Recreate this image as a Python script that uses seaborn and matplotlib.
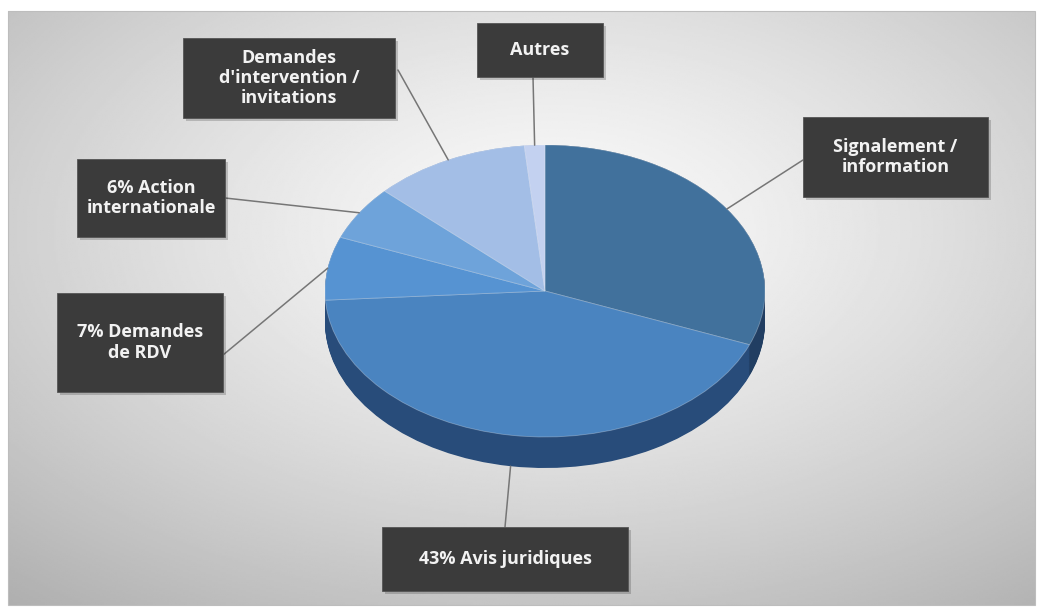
import numpy as np
import matplotlib
matplotlib.use("Agg")
import matplotlib.pyplot as plt
import matplotlib.patches as mpatches
import seaborn as sns

# ---- data ----
categories = ["Signalement /\ninformation", "43% Avis juridiques", "7% Demandes\nde RDV",
              "6% Action\ninternationale", "Demandes\nd'intervention /\ninvitations", "Autres"]
values = [31, 43, 7, 6, 11.5, 1.5]
top_colors = ["#41719C", "#4A84C0", "#5693D2", "#6EA3DA", "#A3BEE6", "#C3D1F0"]
side_colors = ["#213E62", "#284C7A", "#2F5788", "#3A6599", "#5F80B5", "#7B93C5"]

# label box layout (pixel coords from top-left): box (x0, y0, x1, y1), leader start point
boxes = [(803, 117, 988, 197), (382, 527, 628, 591), (57, 293, 223, 392),
         (77, 159, 225, 237), (183, 38, 395, 118), (477, 23, 603, 77)]
leader_start = [(803, 160), (505, 527), (223, 355), (225, 198), (398, 70), (533, 77)]

W, H = 1041, 611
sns.set_theme(style="white")
plt.rcParams['font.family'] = ['Open Sans', 'DejaVu Sans']

fig = plt.figure(figsize=(W / 100, H / 100), dpi=100)
fig.patch.set_facecolor("white")

# background gradient
ax_bg = fig.add_axes([8 / W, 1 - 605 / H, (1035 - 8) / W, (605 - 11) / H])
yy, xx = np.mgrid[0:300, 0:520]
cx, cy = 275, 110
d = np.sqrt(((xx - cx) / 520) ** 2 + ((yy - cy) / 300) ** 2)
g = np.clip(0.98 - 0.38 * d ** 1.3, 0, 1)
ax_bg.imshow(g, cmap="gray", vmin=0, vmax=1, aspect="auto", extent=(0, 1, 0, 1), origin="upper")
ax_bg.set_axis_off()

# pie axes (full figure)
ax = fig.add_axes([0, 0, 1, 1])
ax.patch.set_alpha(0)
cxp, cyp = 545, 291
rx, ry = 220, 146
depth = 31 / ry

for k in np.linspace(depth, 0, 40):
    ax.pie(values, colors=side_colors, startangle=90, counterclock=False,
           center=(0, -k), radius=1, wedgeprops=dict(linewidth=0))
ax.pie(values, colors=top_colors, startangle=90, counterclock=False,
       center=(0, 0), radius=1,
       wedgeprops=dict(linewidth=0.6, edgecolor=(1, 1, 1, 0.3)))
ax.set_aspect("auto")
ax.set_xlim(-cxp / rx, (W - cxp) / rx)
ax.set_ylim(-(H - cyp) / ry, cyp / ry)
ax.set_axis_off()

# overlay axes for label boxes
ov = fig.add_axes([0, 0, 1, 1])
ov.patch.set_alpha(0)
ov.set_xlim(0, W)
ov.set_ylim(H, 0)
ov.set_axis_off()

total = sum(values)
cum = 0
for i, (lab, v) in enumerate(zip(categories, values)):
    mid = cum + v / 2
    cum += v
    th = np.deg2rad(90 - 360 * mid / total)
    px, py = np.cos(th), np.sin(th)
    if py < -0.3:
        py -= depth
    x0, y0, x1, y1 = boxes[i]
    ov.annotate("", xy=(px, py), xycoords=ax.transData,
                xytext=leader_start[i], textcoords="data",
                arrowprops=dict(arrowstyle="-", color="#767676", lw=1.1,
                                shrinkA=0, shrinkB=0), zorder=2)
    # shadow
    ov.add_patch(mpatches.Rectangle((x0 + 3, y0 + 3), x1 - x0, y1 - y0,
                                    facecolor=(0, 0, 0, 0.18), edgecolor="none", zorder=3))
    ov.add_patch(mpatches.Rectangle((x0, y0), x1 - x0, y1 - y0,
                                    facecolor="#3b3b3b", edgecolor="#555555", lw=0.6, zorder=4))
    ov.text((x0 + x1) / 2, (y0 + y1) / 2, lab, ha="center", va="center",
            color="#f2f2f2", fontsize=13, fontweight="bold", linespacing=1.15, zorder=5)

# thin frame around chart area
ov.add_patch(mpatches.Rectangle((8, 11), 1027, 594, facecolor="none",
                                edgecolor="#bdbdbd", lw=0.8, zorder=1))

fig.savefig("out.png", dpi=100, facecolor="white")
